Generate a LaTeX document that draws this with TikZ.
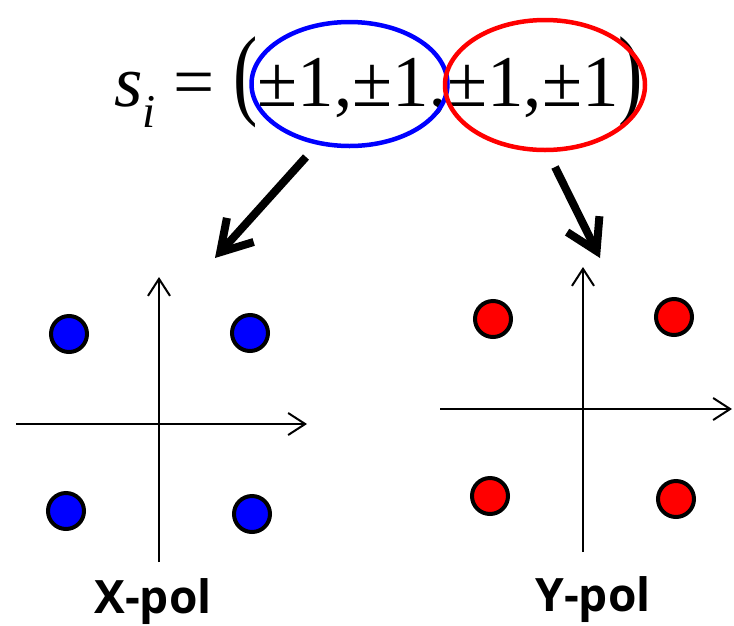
\documentclass[tikz,border=0pt]{standalone}
\usepackage{fontspec}
\setmainfont{Liberation Serif}
\newfontfamily\polfont{Open Sans}
\usepackage{graphicx}
\usetikzlibrary{shapes.geometric, arrows.meta}

\begin{document}
\begin{tikzpicture}[x=1pt, y=-1pt,
  group/.style={ellipse, draw, line width=4.5pt, minimum width=196pt, minimum height=124pt, inner sep=0pt},
  axis/.style={line width=2pt, -{Straight Barb[length=17pt, width=22pt, line width=2pt]}},
  symbol/.style={circle, draw=black, line width=4pt, minimum size=36pt, inner sep=0pt},
  arrow/.style={line width=8pt, -{Straight Barb[length=30pt, width=36pt, line width=8pt]}},
  pollabel/.style={font=\polfont\bfseries\fontsize{46}{50}\selectfont, anchor=base}
]
\useasboundingbox (0,0) rectangle (734,625);

% symbol vector
\node (formula) [anchor=base west, inner sep=0pt] at (114,106)
  {\fontsize{73}{80}\selectfont\textit{s}\raisebox{-0.3em}{\fontsize{47}{50}\selectfont\textit{i}} = \scalebox{1}[1.38]{(}±1,±1,±1,±1\scalebox{1}[1.38]{)}};
\node (xgroup) [group, draw=blue] at (349.5,84) {};
\node (ygroup) [group, draw=red, minimum width=200pt, minimum height=130pt] at (545,85) {};

% X-pol constellation
\coordinate (xorig) at (159,424);
\draw [axis] (159,562) -- (159,277);
\draw [axis] (16,424) -- (307,424);
\node (x1) [symbol, fill=blue] at (69,334) {};
\node (x2) [symbol, fill=blue] at (250,333) {};
\node (x3) [symbol, fill=blue] at (66,511) {};
\node (x4) [symbol, fill=blue] at (252,514) {};
\node (xlabel) [pollabel] at (153,613) {X-pol};

% Y-pol constellation
\coordinate (yorig) at (583,409);
\draw [axis] (583,552) -- (583,267);
\draw [axis] (440,409) -- (732,409);
\node (y1) [symbol, fill=red] at (493,319) {};
\node (y2) [symbol, fill=red] at (674,317) {};
\node (y3) [symbol, fill=red] at (490,496) {};
\node (y4) [symbol, fill=red] at (676,499) {};
\node (ylabel) [pollabel] at (593,611) {Y-pol};

% split arrows
\coordinate (xstart) at (306,157);
\coordinate (xend) at (215,258);
\coordinate (ystart) at (555,167);
\coordinate (yend) at (600,258);
\draw [arrow] (xstart) -- (xend);
\draw [arrow] (ystart) -- (yend);

\end{tikzpicture}
\end{document}
